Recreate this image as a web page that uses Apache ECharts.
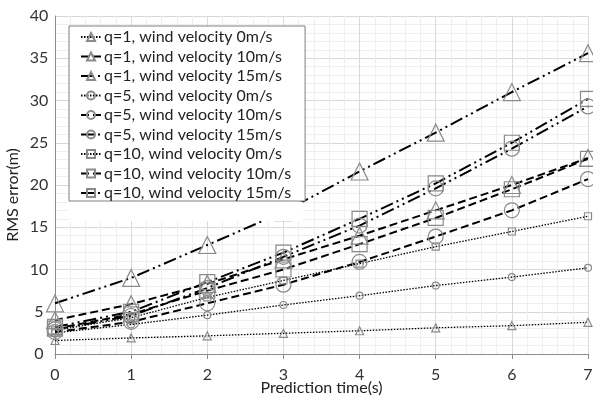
<!DOCTYPE html>
<html><head><meta charset="utf-8">
<script src="https://cdn.jsdelivr.net/npm/echarts@6/dist/echarts.min.js"></script>
<style>html,body{margin:0;padding:0;background:#fff}#c{width:593px;height:396px}</style>
</head><body><div id="c"></div>
<script>
var times = [0, 1, 2, 3, 4, 5, 6, 7];
var seriesNames = [
  'q=1, wind velocity 0m/s', 'q=1, wind velocity 10m/s', 'q=1, wind velocity 15m/s',
  'q=5, wind velocity 0m/s', 'q=5, wind velocity 10m/s', 'q=5, wind velocity 15m/s',
  'q=10, wind velocity 0m/s', 'q=10, wind velocity 10m/s', 'q=10, wind velocity 15m/s'
];
var q1_w0  = [1.6, 1.9, 2.15, 2.45, 2.75, 3.1, 3.35, 3.75];
var q1_w10 = [4.0, 5.9, 8.3, 11.2, 14.0, 17.0, 20.0, 23.2];
var q1_w15 = [6.0, 9.0, 12.9, 16.8, 21.6, 26.2, 31.0, 35.6];
var q5_w0  = [2.5, 3.5, 4.6, 5.8, 6.9, 8.1, 9.1, 10.2];
var q5_w10 = [2.6, 3.8, 6.0, 8.2, 10.9, 13.9, 17.0, 20.7];
var q5_w15 = [2.9, 4.5, 7.8, 11.5, 15.2, 19.6, 24.3, 29.3];
var q10_w0  = [2.8, 4.3, 6.7, 8.7, 10.7, 12.7, 14.5, 16.3];
var q10_w10 = [3.0, 4.7, 7.5, 10.0, 13.0, 16.1, 19.5, 23.1];
var q10_w15 = [3.2, 5.0, 8.5, 12.0, 16.0, 20.2, 25.0, 30.2];
var yTicks = [0, 5, 10, 15, 20, 25, 30, 35, 40];

var allData = [q1_w0, q1_w10, q1_w15, q5_w0, q5_w10, q5_w15, q10_w0, q10_w10, q10_w15];
var symbols = ['triangle', 'triangle', 'triangle', 'circle', 'circle', 'circle', 'rect', 'rect', 'rect'];
var FONT = 'Lato';
function styleFor(i) {
  var w = i % 3; var s = symbols[i];
  var size;
  if (w === 0) size = s === 'triangle' ? 8 : 7;
  else size = s === 'triangle' ? 17 : 15;
  var lt, lw;
  if (w === 0) { lt = [1.5, 1.5]; lw = 1.3; }
  else if (w === 1) { lt = [8, 4]; lw = 2; }
  else { lt = [13, 4, 2, 4, 2, 4]; lw = 2; }
  return {size: size, lt: lt, lw: lw};
}
var series = allData.map(function (d, i) {
  var st = styleFor(i);
  return {
    name: seriesNames[i], type: 'line',
    data: d.map(function (v, k) { return [times[k], v]; }),
    symbol: symbols[i], symbolSize: st.size, showSymbol: true,
    itemStyle: {color: 'rgba(0,0,0,0)', borderColor: '#8a8a8a', borderWidth: 1.2},
    lineStyle: {color: '#000', width: st.lw, type: st.lt},
    emphasis: {disabled: true}, animation: false, z: 2
  };
});

var chart = echarts.init(document.getElementById('c'), null, {renderer: 'canvas'});
chart.setOption({
  animation: false,
  backgroundColor: '#fff',
  grid: {left: 55, right: 5, top: 16, bottom: 42, containLabel: false, outerBoundsMode: 'none'},
  xAxis: {
    type: 'value', min: 0, max: 7, interval: 1,
    name: 'Prediction time(s)', nameLocation: 'middle', nameGap: 26, nameMoveOverlap: false,
    nameTextStyle: {fontFamily: FONT, fontSize: 16, color: '#222'},
    axisLine: {show: true, lineStyle: {color: '#8c8c8c', width: 1}},
    axisTick: {show: true, length: 5, lineStyle: {color: '#8c8c8c'}},
    axisLabel: {fontFamily: FONT, fontSize: 16, color: '#333', margin: 13},
    splitLine: {show: true, lineStyle: {color: '#d9d9d9', width: 1}},
    minorTick: {show: false, splitNumber: 5},
    minorSplitLine: {show: true, lineStyle: {color: '#efefef', width: 1}}
  },
  yAxis: {
    type: 'value', min: 0, max: 40, interval: 5,
    name: 'RMS error(m)', nameLocation: 'middle', nameGap: 34, nameMoveOverlap: false,
    nameTextStyle: {fontFamily: FONT, fontSize: 16, color: '#222', padding: [0, 20, 0, 0]},
    axisLine: {show: true, lineStyle: {color: '#8c8c8c', width: 1}},
    axisTick: {show: false},
    axisLabel: {fontFamily: FONT, fontSize: 16, color: '#333', margin: 16, align: 'center',
      formatter: function (v) { return yTicks.indexOf(v) >= 0 ? String(v) : ''; }},
    splitLine: {show: true, lineStyle: {color: '#d9d9d9', width: 1}},
    minorTick: {show: false, splitNumber: 5},
    minorSplitLine: {show: true, lineStyle: {color: '#efefef', width: 1}}
  },
  legend: {
    show: true, orient: 'vertical', left: 69, top: 26,
    itemWidth: 20, itemHeight: 10, itemGap: 3.5,
    padding: [3, 14, 0, 11],
    backgroundColor: '#fff', borderColor: '#7f7f7f', borderWidth: 1,
    textStyle: {fontFamily: FONT, fontSize: 16, lineHeight: 16, color: '#222', padding: [0, 0, 0, -2]},
    data: seriesNames, z: 10
  },
  graphic: [{
    type: 'rect', left: 69, top: 202, shape: {width: 234, height: 19},
    style: {fill: '#fff'}, z: 5, silent: true
  }],
  series: series
});
</script></body></html>
